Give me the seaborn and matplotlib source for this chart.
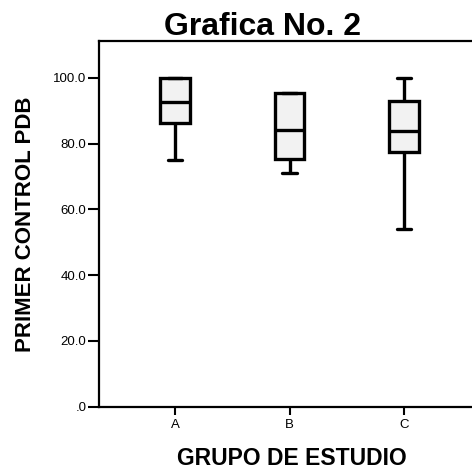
import pandas as pd
import numpy as np
import matplotlib
matplotlib.use('Agg')
import matplotlib.pyplot as plt
import seaborn as sns

# Datos (min, Q1, mediana, Q3, max por grupo)
grupos = ['A', 'B', 'C']
valores_a = [75.0, 86.3, 92.6, 100.0, 100.0]
valores_b = [71.0, 75.4, 84.2, 95.5, 95.5]
valores_c = [54.0, 77.4, 83.8, 92.9, 100.0]
ticks_y = [0, 20, 40, 60, 80, 100]
etiquetas_y = ['.0', '20.0', '40.0', '60.0', '80.0', '100.0']

df = pd.DataFrame({
    'grupo': ['A'] * len(valores_a) + ['B'] * len(valores_b) + ['C'] * len(valores_c),
    'valor': valores_a + valores_b + valores_c,
})

sns.set_style('white')
plt.rcParams['font.family'] = ['Liberation Sans', 'DejaVu Sans']
plt.rcParams['text.color'] = 'black'
plt.rcParams['axes.labelcolor'] = 'black'
plt.rcParams['xtick.color'] = 'black'
plt.rcParams['ytick.color'] = 'black'

fig = plt.figure(figsize=(4.72, 4.75), dpi=100)
ax = fig.add_axes([99 / 472, 68.3 / 475, 373 / 472, 365.7 / 475])

sns.boxplot(data=df, x='grupo', y='valor', order=grupos, ax=ax,
            width=0.26, color='#f2f2f2', saturation=1, linecolor='black',
            linewidth=2.4, whis=(0, 100))

ax.set_xlim(-0.664, 2.594)
ax.set_ylim(0, 111.2)
ax.set_yticks(ticks_y)
ax.set_yticklabels(etiquetas_y, fontsize=9.5)
ax.tick_params(axis='x', labelsize=9.5, length=6, width=1.5, direction='out', bottom=True, pad=3)
ax.tick_params(axis='y', length=8, width=1.5, direction='out', left=True, pad=1)

for lado in ['left', 'bottom', 'top']:
    ax.spines[lado].set_linewidth(1.6)
    ax.spines[lado].set_color('black')
ax.spines['right'].set_visible(False)

ax.set_xlabel('GRUPO DE ESTUDIO', fontsize=16.5, fontweight='bold')
ax.set_ylabel('PRIMER CONTROL PDB', fontsize=16, fontweight='bold')
ax.xaxis.set_label_coords(193 / 373, -40 / 365.7)
ax.yaxis.set_label_coords(-63 / 373, 0.5)

fig.text(263 / 472, 440 / 475, 'Grafica No. 2', fontsize=23, fontweight='bold', ha='center', va='baseline')

plt.savefig('out.png', dpi=100)
